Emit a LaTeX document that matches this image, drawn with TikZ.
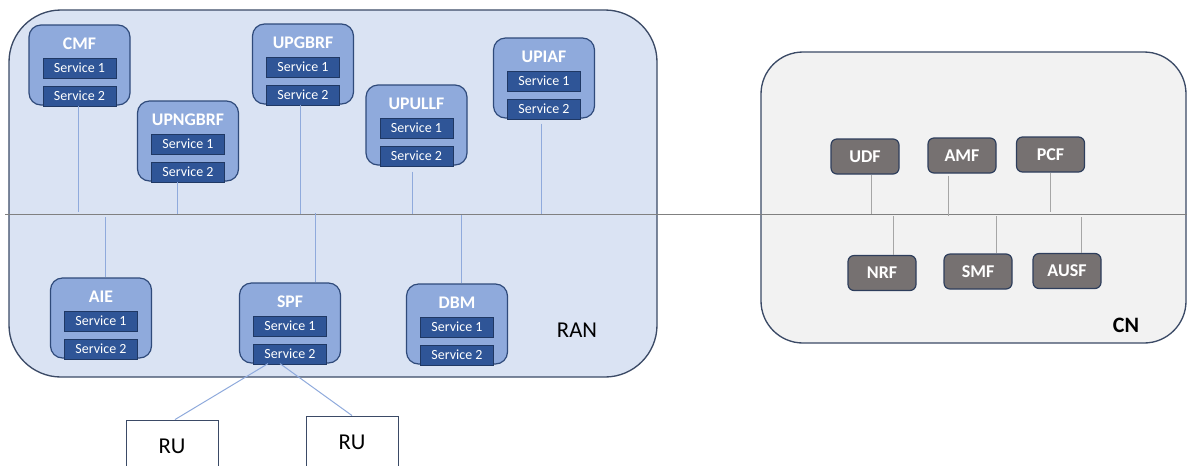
\documentclass[tikz,border=0pt]{standalone}
\usepackage{fontspec}
\setmainfont{Carlito}
\usetikzlibrary{calc}
\newdimen\pxu \pxu=0.75pt
\definecolor{ranfill}{HTML}{DAE3F3}
\definecolor{ranline}{HTML}{3B4A66}
\definecolor{fnfill}{HTML}{8FAADC}
\definecolor{fnline}{HTML}{2F4A7A}
\definecolor{svcfill}{HTML}{2F5597}
\definecolor{svcline}{HTML}{1F3864}
\definecolor{linkblue}{HTML}{8FAADC}
\definecolor{busgray}{HTML}{808080}
\definecolor{cnfill}{HTML}{F2F2F2}
\definecolor{cnnodefill}{HTML}{767171}
\definecolor{cnnodeline}{HTML}{2E3E5C}
\definecolor{cnlink}{HTML}{A6A6A6}

% one RAN function: outer box, title and two service blocks
\newcommand\ranfn[4]{%
  \node[fnbox] (#1) at (#2,#3+40) {};
  \node[fntitle] (#1-t) at (#2,#3+19) {#4};
  \node[svc] (#1-s1) at (#2,#3+43) {Service 1};
  \node[svc] (#1-s2) at (#2,#3+71) {Service 2};
}

\begin{document}
\begin{tikzpicture}[x=0.75pt,y=-0.75pt,
  netarea/.style={line width=1pt},
  fnbox/.style={draw=fnline, fill=fnfill, line width=0.9pt, rounded corners=12\pxu,
    minimum width=101\pxu, minimum height=80\pxu, inner sep=0pt},
  fntitle/.style={text=white, font=\fontsize{13.3}{16}\selectfont\bfseries, inner sep=0pt},
  svc/.style={draw=svcline, fill=svcfill, line width=0.6pt, text=white,
    font=\fontsize{10.5}{12}\selectfont, minimum width=73\pxu, minimum height=20\pxu, inner sep=0pt},
  cnnode/.style={draw=cnnodeline, fill=cnnodefill, line width=0.9pt, rounded corners=6\pxu,
    minimum width=68\pxu, minimum height=35\pxu, inner sep=0pt, text=white,
    font=\fontsize{13.5}{16}\selectfont\bfseries},
  rubox/.style={draw=ranline, fill=white, line width=0.7pt, minimum width=92\pxu,
    minimum height=52\pxu, inner sep=0pt, font=\fontsize{17}{20}\selectfont},
  link/.style={draw=linkblue, line width=0.75pt},
  cnconn/.style={draw=cnlink, line width=0.75pt},
  bus/.style={draw=busgray, line width=0.75pt}]
\useasboundingbox (0,0) rectangle (1187,465);
\clip (0,0) rectangle (1187,465);

% network areas
\draw[netarea, draw=ranline, fill=ranfill, rounded corners=52\pxu] (9,10) rectangle (657,377);
\draw[netarea, draw=ranline, fill=cnfill, rounded corners=42\pxu] (761,52) rectangle (1186,343);
\node[font=\fontsize{17}{20}\selectfont, inner sep=0pt] (ranlabel) at (577,330) {RAN};
\node[font=\fontsize{16.5}{20}\selectfont\bfseries, inner sep=0pt] (cnlabel) at (1126,325) {CN};

% service bus
\coordinate (busL) at (5,214);
\coordinate (busR) at (1187,214);
\draw[bus] (busL) -- (busR);

% RAN functions
\ranfn{cmf}{79.5}{25}{CMF}
\ranfn{upng}{188}{101}{UPNGBRF}
\ranfn{upg}{303}{24}{UPGBRF}
\ranfn{upull}{416.5}{85}{UPULLF}
\ranfn{upia}{544}{38}{UPIAF}
\ranfn{aie}{101}{278}{AIE}
\ranfn{spf}{290}{283}{SPF}
\ranfn{dbm}{457}{284}{DBM}

% RAN attachments to the bus
\coordinate (b-cmf) at (78,212);
\coordinate (b-upng) at (177,214);
\coordinate (b-upg) at (300,214);
\coordinate (b-upull) at (412,214);
\coordinate (b-upia) at (541,214);
\coordinate (b-aie) at (105,217);
\coordinate (b-spf) at (315,213);
\coordinate (b-dbm) at (461,215);
\draw[link] (cmf.south -| b-cmf) -- (b-cmf);
\draw[link] (upng.south -| b-upng) -- (b-upng);
\draw[link] (upg.south -| b-upg) -- (b-upg);
\draw[link, shorten <=6\pxu] (upull.south -| b-upull) -- (b-upull);
\draw[link, shorten <=5\pxu] (upia.south -| b-upia) -- (b-upia);
\draw[link] (b-aie) -- (aie.north -| b-aie);
\draw[link] (b-spf) -- (spf.north -| b-spf);
\draw[link] (b-dbm) -- (dbm.north -| b-dbm);

% radio units
\node[rubox] (ru1) at (172,446) {RU};
\node[rubox] (ru2) at (352,442) {RU};
\draw[link] ($(spf.south)+(-22,0)$) -- ($(ru1.north)+(3,0)$);
\draw[link] ($(spf.south)+(-10,0)$) -- (ru2.north);

% core network functions
\node[cnnode] (udf) at (865,156.5) {UDF};
\node[cnnode] (amf) at (962,155.5) {AMF};
\node[cnnode] (pcf) at (1050.5,154.5) {PCF};
\node[cnnode] (nrf) at (882,273) {NRF};
\node[cnnode] (smf) at (978,271.5) {SMF};
\node[cnnode] (ausf) at (1067,271) {AUSF};

\coordinate (b-udf) at (871,214);
\coordinate (b-amf) at (948,216);
\coordinate (b-pcf) at (1050,212);
\coordinate (b-nrf) at (893,216);
\coordinate (b-smf) at (996,216);
\coordinate (b-ausf) at (1081,217);
\draw[cnconn] (udf.south -| b-udf) -- (b-udf);
\draw[cnconn, shorten <=2\pxu] (amf.south -| b-amf) -- (b-amf);
\draw[cnconn] (pcf.south -| b-pcf) -- (b-pcf);
\draw[cnconn] (b-nrf) -- (nrf.north -| b-nrf);
\draw[cnconn] (b-smf) -- (smf.north -| b-smf);
\draw[cnconn] (b-ausf) -- (ausf.north -| b-ausf);
\end{tikzpicture}
\end{document}
